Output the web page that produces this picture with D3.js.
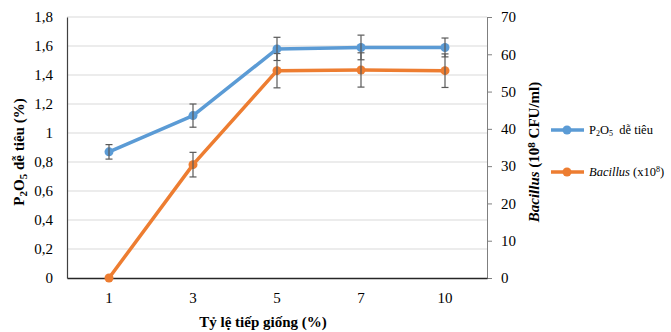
<!DOCTYPE html>
<html>
<head>
<meta charset="utf-8">
<script src="https://cdn.jsdelivr.net/npm/d3@7"></script>
<style>
  body { margin: 0; background: #fff; }
  svg text { font-family: "Liberation Serif", "Times New Roman", "DejaVu Serif", serif; }
</style>
</head>
<body>
<div id="chart"></div>
<script>
// data
const categories = ['1', '3', '5', '7', '10'];
const p2o5 = [0.87, 1.12, 1.58, 1.59, 1.59];
const p2o5Err = [0.05, 0.08, 0.08, 0.085, 0.065];
const bacillus = [0, 30.4, 55.6, 55.8, 55.6];
const bacillusErr = [0, 3.3, 4.6, 4.6, 4.5];
const leftTicks = [0, 0.2, 0.4, 0.6, 0.8, 1, 1.2, 1.4, 1.6, 1.8];
const rightTicks = [0, 10, 20, 30, 40, 50, 60, 70];

const W = 671, H = 332;
const margin = { top: 17, right: 184, bottom: 54, left: 67 };
const width = W - margin.left - margin.right;
const height = H - margin.top - margin.bottom;

const blue = '#5b9bd5', orange = '#ed7d31', errColor = '#595959';

const svg = d3.select('#chart').append('svg')
  .attr('width', W).attr('height', H);
const g = svg.append('g')
  .attr('transform', 'translate(' + margin.left + ',' + margin.top + ')');

const x = d3.scaleBand().domain(categories).range([0, width]);
const yL = d3.scaleLinear().domain([0, 1.8]).range([height, 0]);
const yR = d3.scaleLinear().domain([0, 70]).range([height, 0]);
const cx = (d) => x(d) + x.bandwidth() / 2;
const fmt = (v) => String(v).replace('.', ',');

// gridlines
g.append('g').selectAll('line').data(leftTicks.slice(1)).enter().append('line')
  .attr('x1', 0).attr('x2', width)
  .attr('y1', (d) => yL(d)).attr('y2', (d) => yL(d))
  .attr('stroke', '#d9d9d9').attr('stroke-width', 1);

// left axis
const axL = g.append('g')
  .call(d3.axisLeft(yL).tickValues(leftTicks).tickFormat(fmt).tickSize(0).tickPadding(14));
axL.select('.domain').attr('stroke', '#404040').attr('stroke-width', 1.2);
axL.selectAll('text').attr('font-size', 15).attr('fill', '#000');

// right axis
const axR = g.append('g').attr('transform', 'translate(' + width + ',0)')
  .call(d3.axisRight(yR).tickValues(rightTicks).tickSize(5).tickPadding(9).tickSizeOuter(0));
axR.select('.domain').attr('stroke', '#7f7f7f');
axR.selectAll('line').attr('stroke', '#7f7f7f');
axR.selectAll('text').attr('font-size', 15).attr('fill', '#000');

// bottom axis
const axB = g.append('g').attr('transform', 'translate(0,' + height + ')')
  .call(d3.axisBottom(x).tickSize(0).tickPadding(14));
axB.select('.domain').attr('stroke', '#262626').attr('stroke-width', 1.5);
axB.selectAll('text').attr('font-size', 15).attr('fill', '#000');

// series
function drawSeries(vals, errs, y, color) {
  const pts = categories.map((c, i) => ({ c, v: vals[i], e: errs[i] }));
  g.append('path').datum(pts)
    .attr('fill', 'none').attr('stroke', color).attr('stroke-width', 3.5)
    .attr('stroke-linejoin', 'round')
    .attr('d', d3.line().x((d) => cx(d.c)).y((d) => y(d.v)));
  g.append('g').selectAll('circle').data(pts).enter().append('circle')
    .attr('cx', (d) => cx(d.c)).attr('cy', (d) => y(d.v)).attr('r', 4.5)
    .attr('fill', color);
  const eb = g.append('g').attr('stroke', errColor).attr('stroke-width', 1.2)
    .selectAll('g').data(pts.filter((d) => d.e > 0)).enter().append('g');
  eb.append('line')
    .attr('x1', (d) => cx(d.c)).attr('x2', (d) => cx(d.c))
    .attr('y1', (d) => y(d.v + d.e)).attr('y2', (d) => y(d.v - d.e));
  eb.append('line')
    .attr('x1', (d) => cx(d.c) - 3.5).attr('x2', (d) => cx(d.c) + 3.5)
    .attr('y1', (d) => y(d.v + d.e)).attr('y2', (d) => y(d.v + d.e));
  eb.append('line')
    .attr('x1', (d) => cx(d.c) - 3.5).attr('x2', (d) => cx(d.c) + 3.5)
    .attr('y1', (d) => y(d.v - d.e)).attr('y2', (d) => y(d.v - d.e));
}
drawSeries(bacillus, bacillusErr, yR, orange);
drawSeries(p2o5, p2o5Err, yL, blue);

// axis titles
const tL = svg.append('text')
  .attr('transform', 'translate(24,152) rotate(-90)')
  .attr('text-anchor', 'middle').attr('font-size', 15).attr('font-weight', 'bold');
tL.append('tspan').text('P');
tL.append('tspan').text('2').attr('font-size', 11).attr('baseline-shift', '-25%');
tL.append('tspan').text('O');
tL.append('tspan').text('5').attr('font-size', 11).attr('baseline-shift', '-25%');
tL.append('tspan').text(' dễ tiêu (%)');

const tR = svg.append('text')
  .attr('transform', 'translate(539,152) rotate(-90)')
  .attr('text-anchor', 'middle').attr('font-size', 15).attr('font-weight', 'bold');
tR.append('tspan').text('Bacillus').attr('font-style', 'italic');
tR.append('tspan').text(' (10');
tR.append('tspan').text('8').attr('font-size', 11).attr('baseline-shift', '40%');
tR.append('tspan').text(' CFU/ml)');

svg.append('text').attr('x', 263).attr('y', 327)
  .attr('text-anchor', 'middle').attr('font-size', 15).attr('font-weight', 'bold')
  .text('Tỷ lệ tiếp giống (%)');

// legend
const legend = [
  { color: blue, y: 130 },
  { color: orange, y: 172 }
];
const lg = svg.append('g').selectAll('g').data(legend).enter().append('g');
lg.append('line').attr('x1', 551).attr('x2', 584)
  .attr('y1', (d) => d.y).attr('y2', (d) => d.y)
  .attr('stroke', (d) => d.color).attr('stroke-width', 3.5);
lg.append('circle').attr('cx', 567).attr('cy', (d) => d.y).attr('r', 4.5)
  .attr('fill', (d) => d.color);

const l1 = svg.append('text').attr('x', 589).attr('y', 134).attr('font-size', 12.5);
l1.append('tspan').text('P');
l1.append('tspan').text('2').attr('font-size', 8).attr('baseline-shift', '-25%');
l1.append('tspan').text('O');
l1.append('tspan').text('5').attr('font-size', 8).attr('baseline-shift', '-25%');
l1.append('tspan').text('\u00a0 dễ tiêu');

const l2 = svg.append('text').attr('x', 589).attr('y', 176).attr('font-size', 12.5);
l2.append('tspan').text('Bacillus').attr('font-style', 'italic');
l2.append('tspan').text(' (x10');
l2.append('tspan').text('8').attr('font-size', 8).attr('baseline-shift', '45%');
l2.append('tspan').text(')');
</script>
</body>
</html>
